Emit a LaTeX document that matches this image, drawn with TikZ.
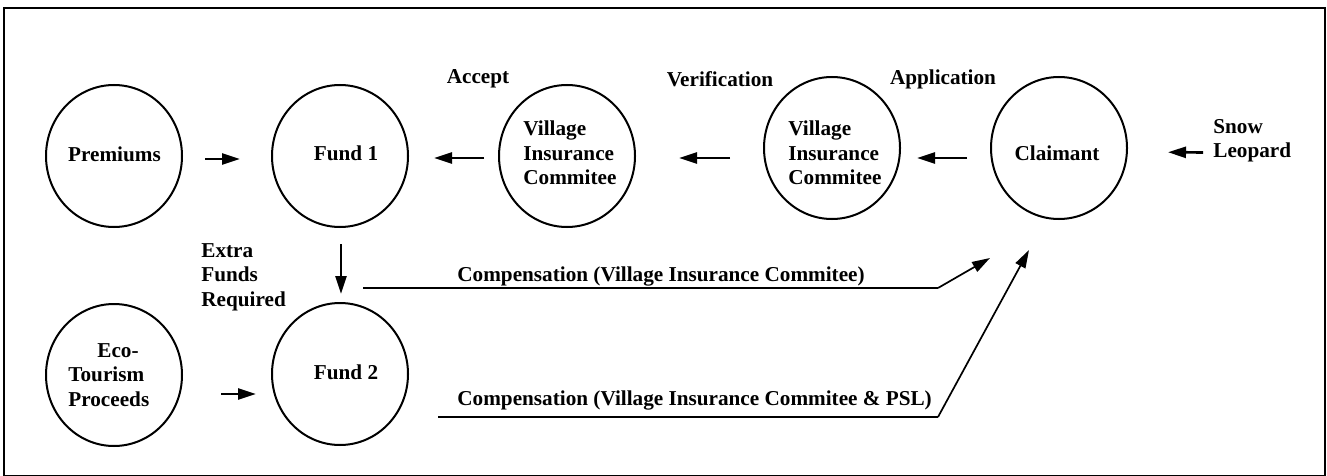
\documentclass[tikz,border=0pt]{standalone}
\usepackage{fontspec}
\setmainfont{Liberation Serif}
\usetikzlibrary{shapes.geometric,arrows.meta}
\begin{document}
\begin{tikzpicture}[x=0.5pt,y=-0.5pt,
  bubble/.style={ellipse,draw,line width=1pt,minimum width=68pt,minimum height=71pt,inner sep=0pt},
  lbl/.style={font=\fontsize{10.6}{12.25}\selectfont\bfseries,inner sep=0pt,align=left},
  flow/.style={line width=1.35pt,-{Triangle[length=9pt,width=5.5pt]}},
  comp/.style={line width=1.35pt},
  diag/.style={line width=0.85pt,-{Triangle[length=9pt,width=5.5pt]}},
  frame/.style={line width=0.6pt}]
\useasboundingbox (0,0) rectangle (1327,476);
\draw[frame] (4,8) rectangle (1325,475.5);

% circles
\node[bubble] (prem) at (114,156) {};
\node[bubble] (fund1) at (340,156) {};
\node[bubble] (vic1) at (567,156) {};
\node[bubble] (vic2) at (832,148) {};
\node[bubble] (claim) at (1059,148) {};
\node[bubble] (eco) at (114,375) {};
\node[bubble] (fund2) at (340,374) {};

% texts inside circles
\node[lbl] (premt) at (114.5,154) {Premiums};
\node[lbl] (fund1t) at (346,153) {Fund 1};
\node[lbl,anchor=west] (vic1t) at (523,153) {Village\\Insurance\\Commitee};
\node[lbl,anchor=west] (vic2t) at (788,153) {Village\\Insurance\\Commitee};
\node[lbl] (claimt) at (1057,153) {Claimant};
\node[lbl,anchor=west] (ecot) at (68,375) {\hspace*{14.5pt}Eco-\\Tourism\\Proceeds};
\node[lbl] (fund2t) at (346,372) {Fund 2};

% free labels
\node[lbl] (accept) at (478,79) {Accept};
\node[lbl] (verif) at (720,79) {Verification};
\node[lbl] (appl) at (943,79) {Application};
\node[lbl,anchor=west] (snow) at (1213,140.5) {Snow\\Leopard};
\node[lbl,anchor=west] (extra) at (201,277) {Extra\\Funds\\Required};
\node[lbl,anchor=west] (comp1t) at (457,276) {Compensation (Village Insurance Commitee)};
\node[lbl,anchor=west] (comp2t) at (457,400) {Compensation (Village Insurance Commitee \& PSL)};

% arrows between circles
\draw[flow,shorten <=11pt,shorten >=15.5pt] ([yshift=-1.5pt]prem.east) -- ([yshift=-1.5pt]fund1.west);
\draw[flow,shorten <=7pt,shorten >=12.5pt] ([yshift=-1pt]vic1.west) -- ([yshift=-1pt]fund1.east);
\draw[flow,shorten <=16.5pt,shorten >=21.5pt] ([yshift=-5pt]vic2.west) -- ([yshift=-1pt]vic1.east);
\draw[flow,shorten <=11.5pt,shorten >=8pt] ([yshift=-5pt]claim.west) -- ([yshift=-5pt]vic2.east);
\draw[flow,shorten <=5pt,shorten >=20pt] ([yshift=-6pt]snow.west) -- ([yshift=-2pt]claim.east);
\draw[flow,shorten <=8pt,shorten >=4pt] ([xshift=0.5pt]fund1.south) -- ([xshift=0.5pt]fund2.north);
\draw[flow,shorten <=19pt,shorten >=7.5pt] ([yshift=-9.5pt]eco.east) -- ([yshift=-10pt]fund2.west);

% compensation connectors
\coordinate (c1s) at (363,288);
\coordinate (c1b) at (938,288);
\coordinate (c1t) at (990,258);
\coordinate (c2s) at (438,417);
\coordinate (c2b) at (938,417);
\coordinate (c2t) at (1029,250);
\draw[comp] (c1s) -- (c1b);
\draw[diag] (c1b) -- (c1t);
\draw[comp] (c2s) -- (c2b);
\draw[diag] (c2b) -- (c2t);
\end{tikzpicture}
\end{document}
